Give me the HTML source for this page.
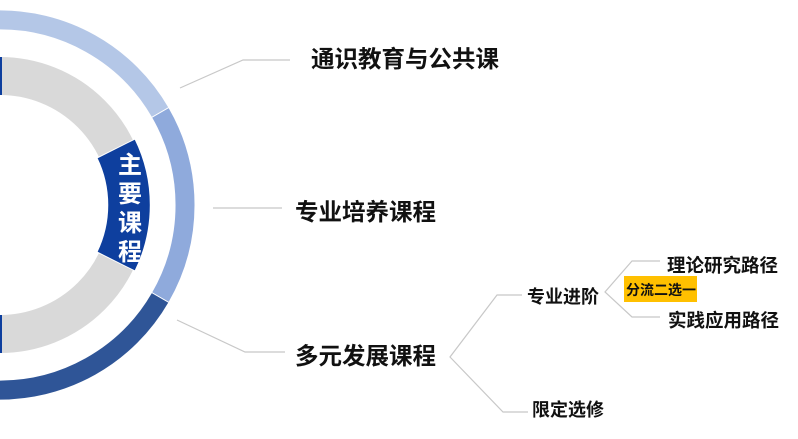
<!DOCTYPE html>
<html><head><meta charset="utf-8"><style>
html,body{margin:0;padding:0;background:#fff;}
body{width:798px;height:439px;overflow:hidden;position:relative;font-family:"Liberation Sans","Noto Sans CJK SC",sans-serif;}
.t{position:absolute;font-weight:bold;color:#111;white-space:nowrap;line-height:1;}
</style></head><body>
<svg width="798" height="439" style="position:absolute;left:0;top:0">
<circle cx="0" cy="205" r="129" fill="none" stroke="#d9d9d9" stroke-width="38"/>
<path d="M135,139 A150,150 0 0 1 135,271 L97,252 A108,108 0 0 0 97,158 Z" fill="#0e3f9e" stroke="#fff" stroke-width="1"/>
<rect x="0" y="57" width="2" height="38" fill="#0e3f9e"/>
<rect x="0" y="315" width="2" height="38" fill="#0e3f9e"/>
<path d="M-5,10 A195,195 0 0 1 168.9,107.5 L151.6,117.5 A175,175 0 0 0 -5,30 Z" fill="#b4c7e7" stroke="#fff" stroke-width="1"/>
<path d="M168.9,107.5 A195,195 0 0 1 168.9,302.5 L151.6,292.5 A175,175 0 0 0 151.6,117.5 Z" fill="#8faadc" stroke="#fff" stroke-width="1"/>
<path d="M168.9,302.5 A195,195 0 0 1 -5,400 L-5,380 A175,175 0 0 0 151.6,292.5 Z" fill="#2f5597" stroke="#fff" stroke-width="1"/>
<g fill="none" stroke="#c8c8c8" stroke-width="1.2">
<polyline points="180,88 243,60 290,60"/>
<polyline points="213,208 282,208"/>
<polyline points="177,320 245,352 285,352"/>
<polyline points="522,295 497,295 450,357 503,412 528,412"/>
<polyline points="660,261 632,261 605,292 632,317 660,317"/>
</g>
<rect x="624" y="276" width="73" height="26" fill="#ffc000"/>
</svg>
<div class="t" style="left:118px;top:151px;width:24px;color:#fff;font-size:24px;line-height:29px;">主<br>要<br>课<br>程</div>
<div class="t" style="left:311px;top:48px;font-size:23.5px;">通识教育与公共课</div>
<div class="t" style="left:295px;top:201px;font-size:23.5px;">专业培养课程</div>
<div class="t" style="left:295px;top:345px;font-size:23.5px;">多元发展课程</div>
<div class="t" style="left:527px;top:288px;font-size:18px;">专业进阶</div>
<div class="t" style="left:667px;top:257px;font-size:18.5px;">理论研究路径</div>
<div class="t" style="left:668px;top:312px;font-size:18.5px;">实践应用路径</div>
<div class="t" style="left:626px;top:283px;font-size:14px;">分流二选一</div>
<div class="t" style="left:532px;top:401px;font-size:18px;">限定选修</div>
</body></html>
